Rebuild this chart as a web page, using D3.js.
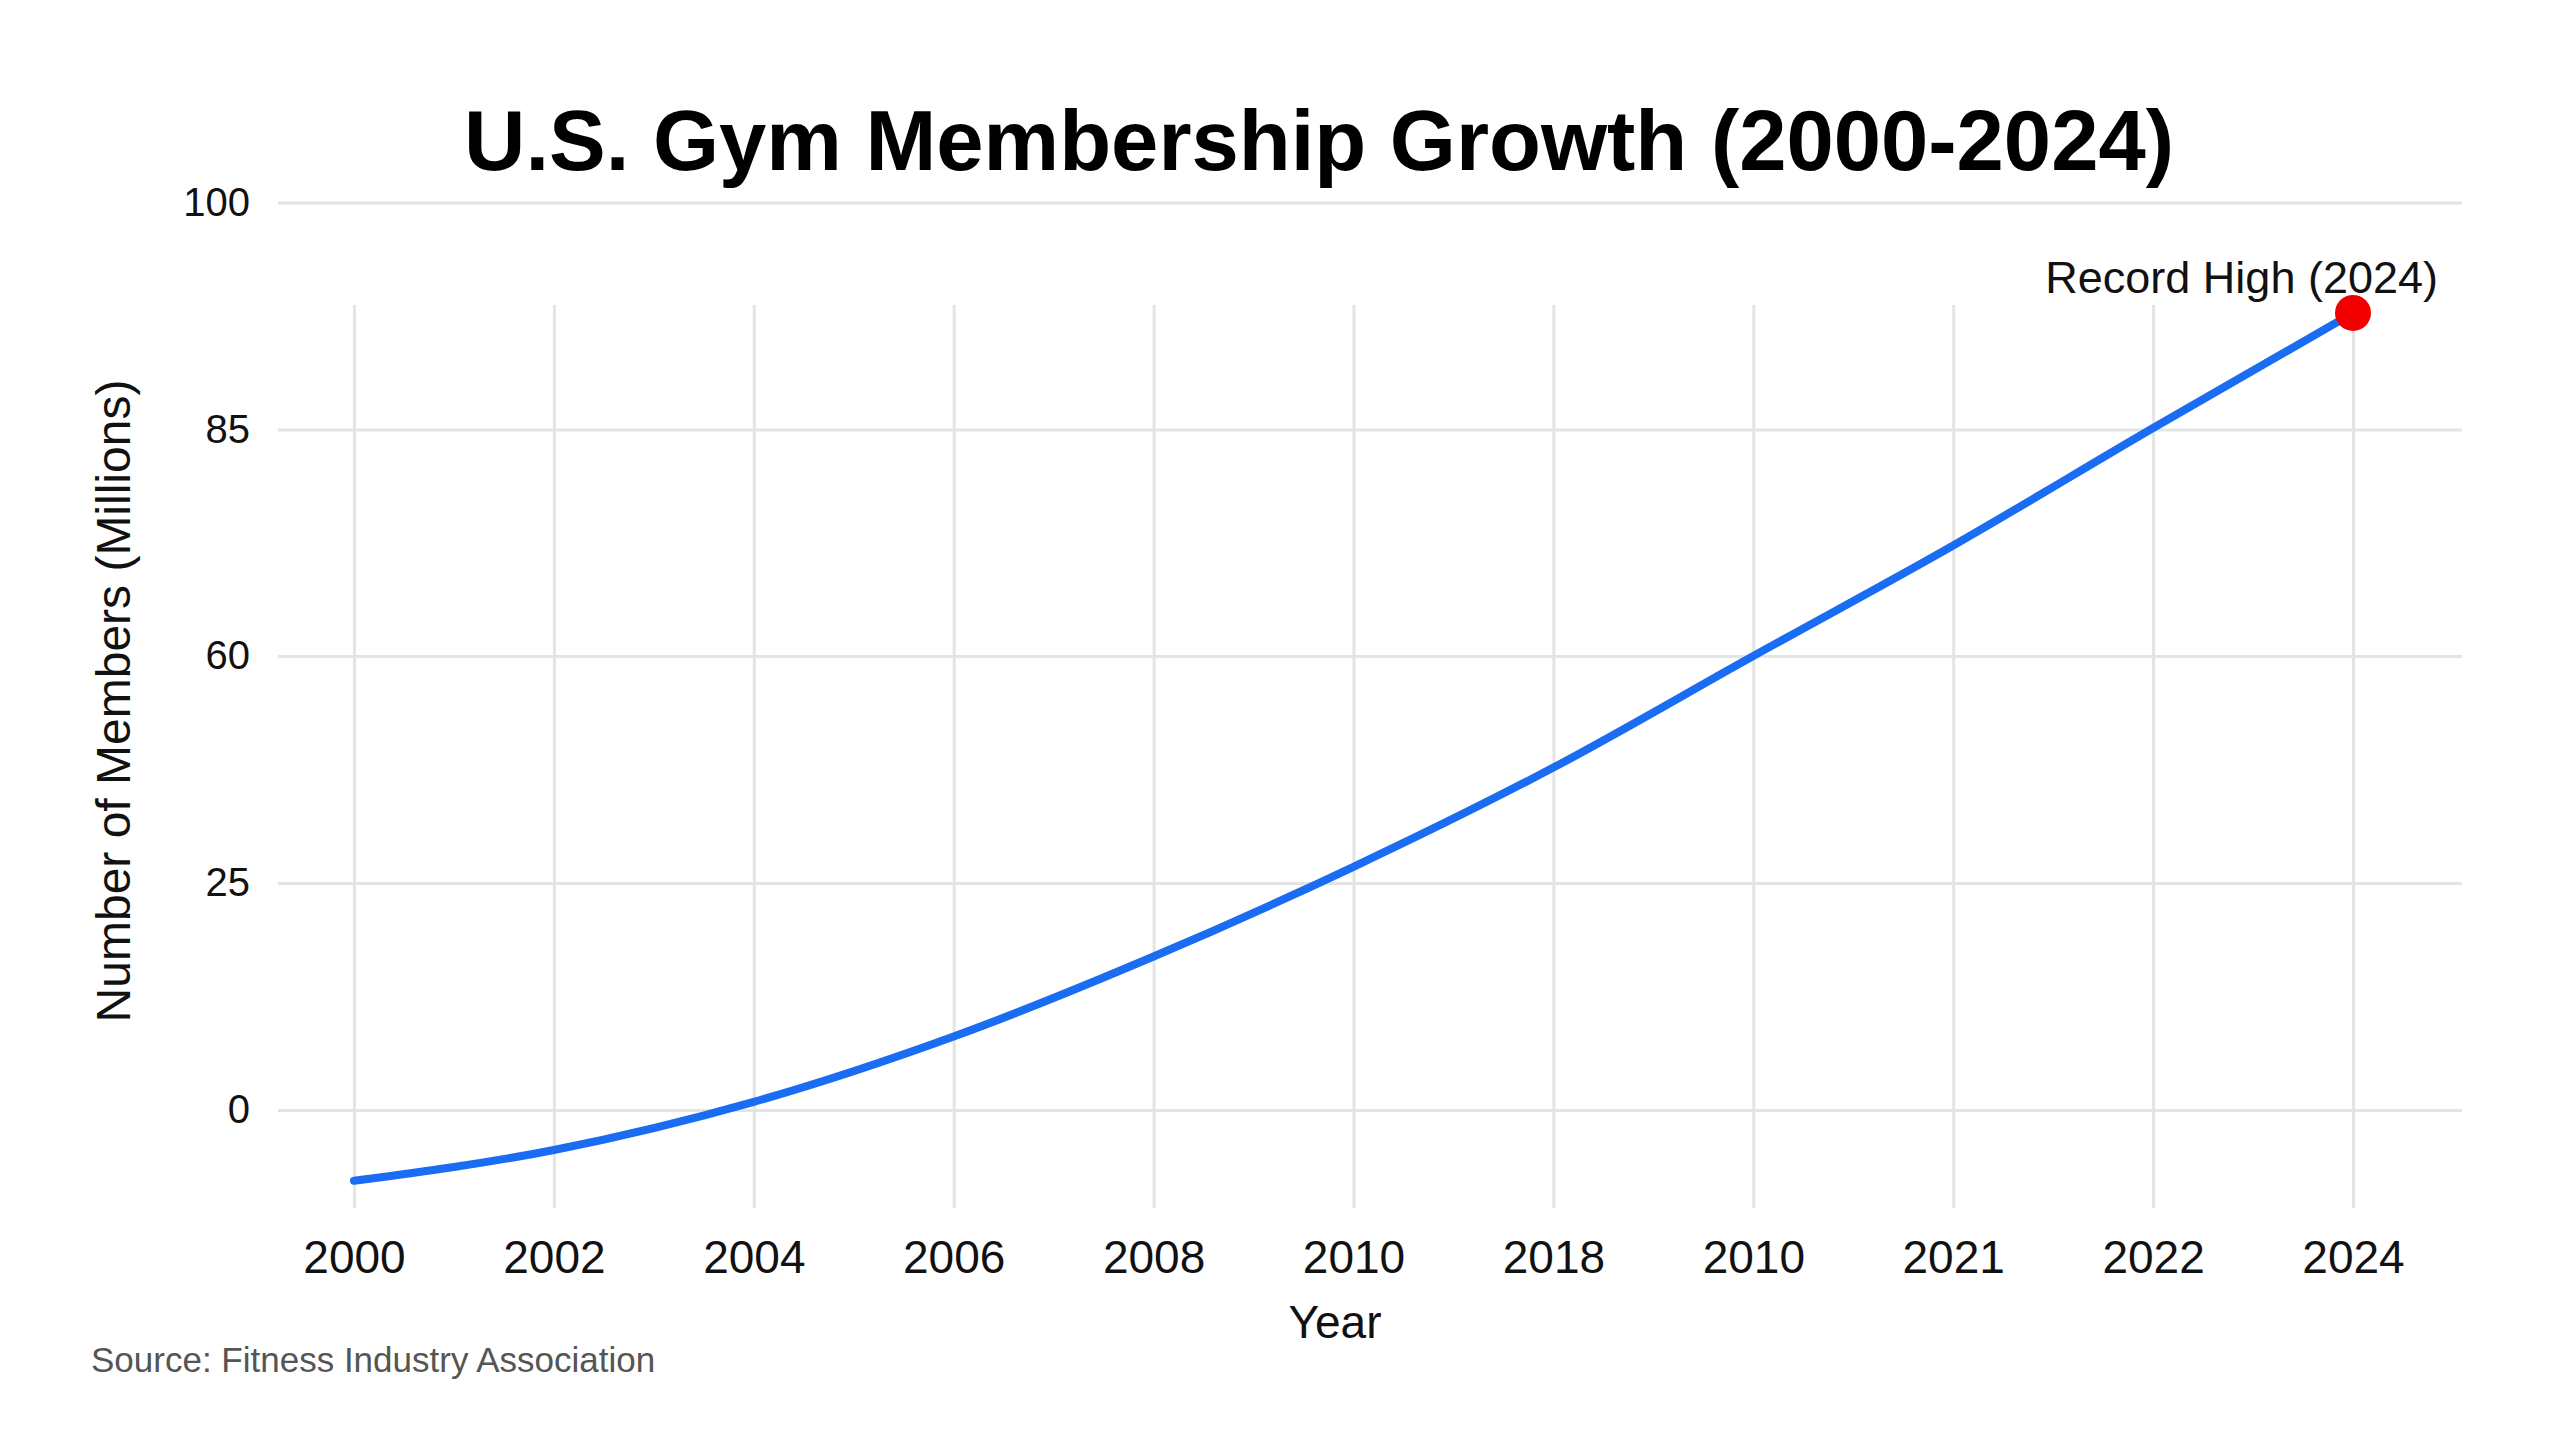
<!DOCTYPE html>
<html>
<head>
<meta charset="utf-8">
<script src="https://cdn.jsdelivr.net/npm/d3@7"></script>
<style>
  html, body { margin: 0; padding: 0; background: #ffffff; }
  svg { display: block; }
  text { font-family: "Liberation Sans", Arial, Helvetica, sans-serif; }
</style>
</head>
<body>
<svg id="chart" width="2560" height="1440"></svg>
<script>
// ---- Data ----
const categories = ["2000", "2002", "2004", "2006", "2008", "2010", "2018", "2010", "2021", "2022", "2024"];
const members = [-7.8, -4.4, 0.9, 8.1, 16.9, 27.5, 42.8, 60.0, 72.2, 85.1, 92.7];
const yTickValues = [0, 25, 60, 85, 100];
const titleText = "U.S. Gym Membership Growth (2000-2024)";
const xAxisTitle = "Year";
const yAxisTitle = "Number of Members (Millions)";
const sourceText = "Source: Fitness Industry Association";
const annotationText = "Record High (2024)";

// ---- Layout ----
const svg = d3.select("#chart");
const W = 2560, H = 1440;
svg.append("rect").attr("width", W).attr("height", H).attr("fill", "#ffffff");

const gridLeft = 278, gridRight = 2462;
const vGridTop = 305, vGridBottom = 1208;

const idx = d3.range(categories.length);
const x = d3.scalePoint().domain(idx).range([354, 2353]);
const y = d3.scaleLinear()
  .domain(yTickValues)
  .range([1110, 883, 656, 429.5, 202.5]);

// Y axis + horizontal gridlines
const yAxis = d3.axisLeft(y)
  .tickValues(yTickValues)
  .tickFormat(d => String(d))
  .tickSize(-(gridRight - gridLeft))
  .tickPadding(28);
const gy = svg.append("g").attr("transform", `translate(${gridLeft},0)`).call(yAxis);
gy.select(".domain").remove();
gy.selectAll(".tick line").attr("stroke", "#e4e4e4").attr("stroke-width", 3);
gy.selectAll(".tick text").attr("font-size", 40).attr("fill", "#111");

// X axis + vertical gridlines
const xAxis = d3.axisBottom(x)
  .tickFormat(i => categories[i])
  .tickSize(-(vGridBottom - vGridTop))
  .tickPadding(32);
const gx = svg.append("g").attr("transform", `translate(0,${vGridBottom})`).call(xAxis);
gx.select(".domain").remove();
gx.selectAll(".tick line").attr("stroke", "#e4e4e4").attr("stroke-width", 3);
gx.selectAll(".tick text").attr("font-size", 46).attr("fill", "#111");

// Line
const line = d3.line()
  .x((d, i) => x(i))
  .y(d => y(d))
  .curve(d3.curveMonotoneX);
svg.append("path")
  .datum(members)
  .attr("d", line)
  .attr("fill", "none")
  .attr("stroke", "#1a6cf3")
  .attr("stroke-width", 8)
  .attr("stroke-linecap", "round")
  .attr("stroke-linejoin", "round");

// Record high point
const lastI = members.length - 1;
svg.append("circle")
  .attr("cx", x(lastI))
  .attr("cy", y(members[lastI]))
  .attr("r", 18)
  .attr("fill", "#f20000");

svg.append("text")
  .attr("x", x(lastI) + 85)
  .attr("y", y(members[lastI]) - 20)
  .attr("text-anchor", "end")
  .attr("font-size", 45)
  .attr("fill", "#111")
  .text(annotationText);

// Title
svg.append("text")
  .attr("x", 1319)
  .attr("y", 170)
  .attr("text-anchor", "middle")
  .attr("font-size", 85)
  .attr("font-weight", "bold")
  .attr("fill", "#000")
  .text(titleText);

// Axis titles
svg.append("text")
  .attr("x", 1335)
  .attr("y", 1338)
  .attr("text-anchor", "middle")
  .attr("font-size", 46)
  .attr("fill", "#111")
  .text(xAxisTitle);

svg.append("text")
  .attr("transform", "translate(130,701) rotate(-90)")
  .attr("text-anchor", "middle")
  .attr("font-size", 48)
  .attr("fill", "#111")
  .text(yAxisTitle);

// Source
svg.append("text")
  .attr("x", 91)
  .attr("y", 1372)
  .attr("font-size", 35)
  .attr("fill", "#555")
  .text(sourceText);
</script>
</body>
</html>
